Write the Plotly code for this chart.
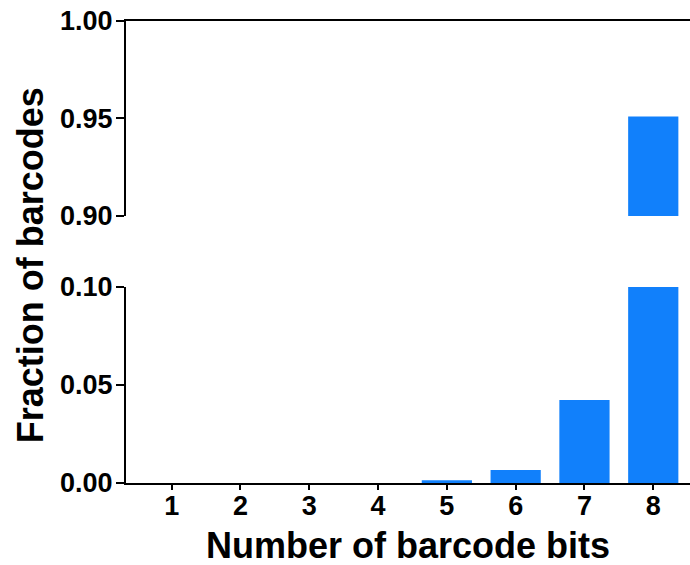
import plotly.graph_objects as go

# Fraction of barcodes by number of barcode bits
bits = [1, 2, 3, 4, 5, 6, 7, 8]
fraction = [0.0, 0.0, 0.0, 0.0, 0.0014, 0.0066, 0.0424, 0.951]

lower_ticks = [0.00, 0.05, 0.10]
lower_labels = ["0.00", "0.05", "0.10"]
upper_ticks = [0.90, 0.95, 1.00]
upper_labels = ["0.90", "0.95", "1.00"]

BAR_COLOR = "#1180FB"
FONT = dict(family="Liberation Sans, Arial, sans-serif", color="black", weight="bold")
TICK_SIZE = 27
TITLE_SIZE = 36

fig = go.Figure()
# the same bars drawn into both segments of the broken y axis
for xa, ya in (("x", "y"), ("x2", "y2")):
    fig.add_trace(go.Bar(x=bits, y=fraction, xaxis=xa, yaxis=ya,
                         marker=dict(color=BAR_COLOR, line=dict(width=0)),
                         showlegend=False))

axis_line = dict(showline=True, linecolor="black", linewidth=2,
                 showgrid=False, zeroline=False)

fig.update_layout(
    width=690, height=565,
    margin=dict(l=126, r=0, t=21, b=82),
    paper_bgcolor="white", plot_bgcolor="white",
    bargap=0.27,
    font=dict(size=TICK_SIZE, **FONT),
    xaxis=dict(domain=[0, 1], range=[0.336, 8.534], anchor="y",
               tickvals=bits, ticktext=[str(b) for b in bits],
               ticks="outside", ticklen=5, tickwidth=2, tickcolor="black",
               ticklabelstandoff=-7,
               tickfont=dict(size=TICK_SIZE, **FONT), **axis_line),
    xaxis2=dict(domain=[0, 1], range=[0.336, 8.534], anchor="y2", side="top",
                matches="x", showticklabels=False, ticks="", **axis_line),
    yaxis=dict(domain=[0, 0.4242], range=[0, 0.10], anchor="x",
               tickvals=lower_ticks, ticktext=lower_labels,
               ticks="outside", ticklen=8, tickwidth=2, tickcolor="black",
               ticklabelstandoff=-2,
               tickfont=dict(size=TICK_SIZE, **FONT), **axis_line),
    yaxis2=dict(domain=[0.578, 1], range=[0.90, 1.00], anchor="x2",
                tickvals=upper_ticks, ticktext=upper_labels,
                ticks="outside", ticklen=8, tickwidth=2, tickcolor="black",
                ticklabelstandoff=-2,
                tickfont=dict(size=TICK_SIZE, **FONT), **axis_line),
    # short inward caps at the ends of the axis break
    yaxis3=dict(domain=[0, 0.4242], range=[0, 0.10], overlaying="y", anchor="x",
                side="left", tickvals=[0.10], ticks="inside", ticklen=4,
                tickwidth=2, tickcolor="black", showticklabels=False,
                showline=False, showgrid=False, zeroline=False),
    yaxis4=dict(domain=[0.578, 1], range=[0.90, 1.00], overlaying="y2", anchor="x2",
                side="left", tickvals=[0.90], ticks="inside", ticklen=4,
                tickwidth=2, tickcolor="black", showticklabels=False,
                showline=False, showgrid=False, zeroline=False),
    annotations=[
        dict(text="Fraction of barcodes", xref="paper", yref="paper",
             x=-0.168, y=0.472, xanchor="center", yanchor="middle",
             textangle=-90, showarrow=False, font=dict(size=TITLE_SIZE, **FONT)),
        dict(text="Number of barcode bits", xref="paper", yref="paper",
             x=0.5, y=-0.136, xanchor="center", yanchor="middle",
             showarrow=False, font=dict(size=TITLE_SIZE, **FONT)),
    ],
)

fig.write_html("out.html")
